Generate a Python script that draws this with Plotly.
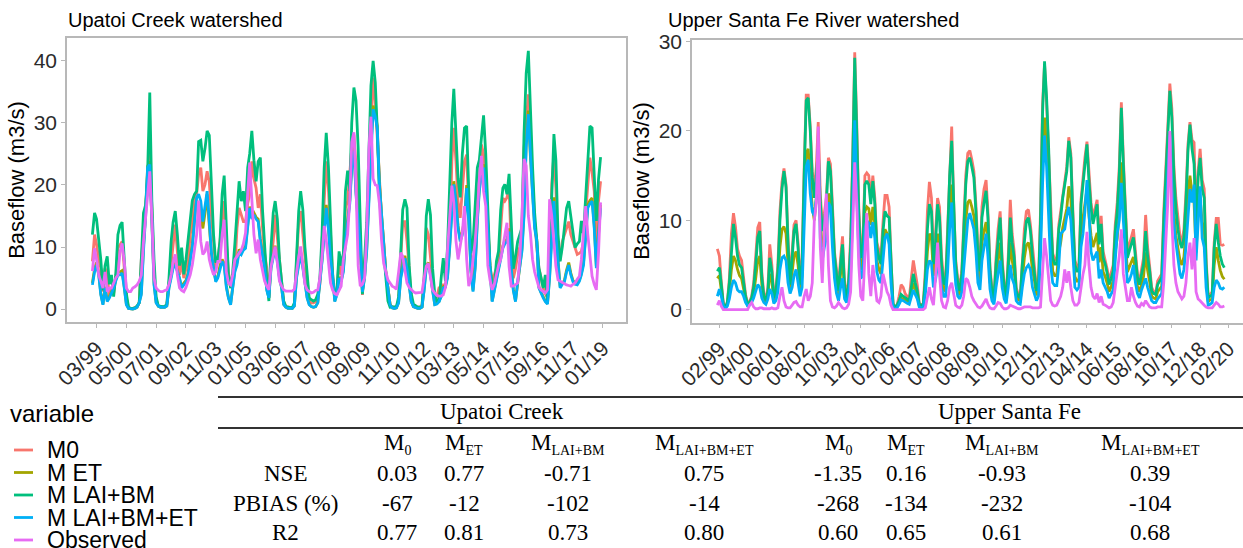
import pandas as pd
import plotly.graph_objects as go

W, H = 1243, 548

series_names = ["M0", "M ET", "M LAI+BM", "M LAI+BM+ET", "Observed"]
series_colors = ["#F8766D", "#A3A500", "#00BF7D", "#00B0F6", "#E76BF3"]

# ---- Upatoi Creek: monthly baseflow (m3/s), Jan 1999 - Dec 2018, one row per year
upatoi_m0 = [
    7.7, 12, 10.4, 8, 6.6, 2.8, 6.6, 5.5, 2, 3.4, 2.5, 5,
    9.8, 10.5, 10.9, 6.6, 1.8, 0.3, 0.1, 0.1, 0.2, 0.4, 1, 8,
    12, 16.3, 20, 25.5, 16.3, 5.5, 1.5, 0.5, 0.4, 0.4, 0.4, 0.7,
    4, 7.7, 11, 13.6, 9.3, 5.5, 7.7, 5, 6.5, 7.7, 12, 14.1,
    17.4, 18.5, 21.7, 22.8, 19, 20.1, 22.2, 20.5, 15, 10.9, 6.6, 7.7,
    10.9, 14.1, 17.4, 10.9, 6, 3.4, 5.5, 6.6, 13.1, 16.3, 15, 14.1,
    14.1, 17, 18.5, 23.8, 21, 19.5, 16.3, 18.5, 13.1, 9, 6.6, 1.8,
    8, 10.9, 15.2, 12, 8, 4.4, 1.2, 0.4, 0.3, 0.2, 0.2, 0.8,
    7, 14.1, 15.8, 12, 8, 4.4, 1.2, 1, 1, 1.2, 2, 4,
    10.9, 18.5, 23.8, 19.5, 11, 5, 1.8, 3.4, 7.7, 5.5, 7.5, 16.3,
    17.4, 21.7, 26, 28.1, 23.8, 18, 10.9, 2.3, 7, 10.9, 20, 28.1,
    37.3, 33.5, 27, 21.1, 15, 10.9, 6, 3.4, 0.7, 0.3, 0.3, 0.3,
    1.5, 8, 14.1, 14.1, 11, 6.6, 1.2, 0.5, 0.3, 0.3, 0.3, 0.4,
    5, 13.1, 12, 8, 4.4, 1.2, 2, 3.4, 3.4, 4, 3.4, 7,
    9.8, 23.8, 29.2, 23.8, 17.4, 14.7, 20, 23.8, 24.9, 15.2, 7, 4.4,
    7.7, 17.4, 20.6, 26.5, 24.9, 18, 14.1, 7, 4.4, 5.5, 6.5, 7.7,
    13, 17.9, 17.4, 18, 19.5, 9.8, 5, 6.5, 8.8, 10, 12, 26,
    30, 34.6, 28.1, 21.1, 14.1, 10, 6.6, 5, 3.4, 2.5, 1.8, 8,
    20.1, 24.9, 19.5, 7.7, 8, 10.9, 12, 13, 14.1, 12, 10.9, 9.5,
    8.8, 9, 9.3, 10.9, 15, 20.1, 24.4, 22, 19, 9.8, 17.4, 20.6,
]
upatoi_met = [
    4.2, 6.5, 7.5, 5.8, 2.5, 0.8, 3.6, 1.4, 2, 2.7, 3.5, 4.8,
    6, 6, 6.2, 3.6, 0.8, 0.1, 0, 0, 0.1, 0.3, 1.1, 2.6,
    10, 15.5, 23, 23.8, 14.5, 4.2, 1.1, 0.5, 0.3, 0.3, 0.3, 0.5,
    3.6, 5.4, 7, 7.5, 6.3, 5.2, 3.6, 4.2, 4.6, 5.8, 8, 10.5,
    14.5, 17.5, 17, 15, 13, 15.5, 18.5, 13.5, 8.8, 6.5, 4.6, 5.2,
    7, 8, 7.4, 3.8, 1.9, 0.8, 3.6, 6.3, 7.5, 9.6, 9.2, 9.8,
    10.2, 13.5, 16.5, 15, 15.5, 14.8, 14.5, 11.3, 8.8, 6.8, 3.2, 1.9,
    7, 8.8, 10.2, 8, 5.2, 3.5, 0.8, 0.3, 0.1, 0.1, 0.1, 0.5,
    5.3, 7.5, 9.2, 7, 4.2, 1.9, 0.8, 0.4, 0.3, 0.4, 1.1, 4.2,
    8, 12.5, 16.8, 13.5, 8.3, 5.7, 1.3, 2.5, 5.2, 4.6, 6.3, 11.3,
    14.5, 17.5, 23.2, 26, 19, 14.4, 10.1, 2.9, 5.2, 9.6, 18.5, 26,
    32.8, 31.5, 29.5, 20.5, 15.4, 11.2, 6.2, 3.5, 0.8, 0.2, 0.1, 0.2,
    1.1, 5.3, 7, 8.6, 6.8, 4.2, 1.3, 0.4, 0.2, 0.1, 0.1, 0.3,
    3.2, 7, 7.5, 5.8, 3.2, 0.8, 0.9, 1.3, 2.1, 3.6, 3.8, 5.3,
    10.5, 16.6, 20.6, 17.8, 13.4, 11.2, 12.4, 14.5, 20, 14.5, 6.3, 3,
    7, 14.6, 19.5, 22.2, 23.3, 19.5, 12.4, 6.9, 1.3, 3.2, 4.6, 6.9,
    8.4, 10.2, 10.9, 11.3, 13, 6.9, 3.2, 1.3, 4.6, 6.8, 9.7, 15.6,
    26.8, 32, 24.6, 19, 13.4, 11.2, 3.6, 2.7, 1.9, 1.3, 0.9, 5.3,
    12.5, 18, 12.4, 7.3, 3.6, 4.2, 4.6, 6.3, 7.5, 5.8, 4.6, 4.2,
    4.1, 4.7, 5.8, 7.5, 11.5, 16.8, 17.5, 17.9, 13.6, 6.9, 12.5, 16.8,
]
upatoi_mlaibm = [
    12, 15.5, 14.5, 11, 8, 3, 7, 8.5, 4, 5.5, 2, 5.5,
    12, 13.5, 14, 8, 2.5, 0.3, 0.1, 0.1, 0.2, 0.5, 1, 8,
    15.5, 16.8, 22, 34.9, 17.4, 8, 2, 0.5, 0.4, 0.4, 0.4, 0.8,
    5, 10.9, 14, 15.8, 12, 7, 9.9, 5.6, 8, 10.9, 14, 17.5,
    18.5, 19, 27, 27.2, 23.8, 25.9, 28.7, 28, 20, 12, 7.5, 8,
    10.9, 18.5, 21.5, 12, 5.5, 3.4, 6, 10.5, 15, 20.6, 17.4, 19,
    15.8, 22.8, 25, 28.7, 24, 20.6, 23.8, 24.4, 16, 9.9, 4.5, 1.3,
    10, 15.5, 17.4, 14.5, 8, 4.5, 1.3, 0.4, 0.3, 0.2, 0.2, 1,
    9, 15.8, 19, 16, 10, 6, 1.8, 1.5, 1.3, 1.5, 2.4, 5,
    12, 22.8, 28.4, 23, 14, 5, 2.4, 2.9, 9.3, 7, 9, 19,
    22.3, 19, 30, 35.7, 33.6, 26, 14, 2.4, 8, 14, 25, 36,
    40, 36.5, 29, 18.5, 13.1, 9, 4, 1.3, 0.3, 0.3, 0.3, 0.4,
    2, 10, 16, 17.7, 16.3, 7, 2.5, 0.8, 0.5, 0.3, 0.3, 0.4,
    5, 15, 17.7, 15.2, 6.6, 2.5, 1.3, 1.3, 5, 8.2, 4.5, 10,
    20, 30, 35.5, 29.2, 21, 18, 25, 29.2, 29.5, 19, 9, 10.5,
    16, 22.8, 24, 28.2, 31.2, 25, 15, 7, 4, 3.4, 7.7, 9.3,
    16, 19.5, 20.1, 18.5, 21.8, 13, 6.5, 8.5, 10.9, 12, 13.1, 28.2,
    38, 41.6, 31, 23, 15.5, 10, 6.6, 5, 3.4, 5.5, 1.3, 8,
    20, 28.2, 24, 12, 7.7, 10, 13.1, 16.3, 17.4, 15, 12, 9.9,
    10.5, 10.9, 14.2, 12, 18, 25, 29.5, 29.2, 21.8, 14.2, 20.9, 24.5,
]
upatoi_mlaibmet = [
    3.9, 6, 7.1, 5.5, 2.3, 0.7, 3.4, 1.2, 1.8, 2.5, 3.4, 4.5,
    5.5, 5.5, 5.8, 3.4, 0.7, 0.1, 0, 0, 0.1, 0.3, 1, 2.3,
    9.3, 15, 22.8, 23.3, 14.1, 3.9, 1, 0.5, 0.3, 0.3, 0.3, 0.5,
    3.4, 5, 6.6, 7.1, 6, 5, 3.4, 4, 4.4, 5.5, 7.7, 10,
    14.1, 17.9, 18.5, 17.4, 14.1, 16.3, 19, 14.1, 9, 6.6, 4.4, 5,
    6.6, 7.7, 7, 3.5, 1.8, 0.7, 3.4, 6, 7.1, 9.3, 8.8, 9.5,
    9.8, 13.1, 16.3, 14.5, 15.2, 14.5, 14.1, 10.9, 8.5, 6.6, 3, 1.8,
    6.6, 8.5, 9.8, 7.7, 5, 3.4, 0.7, 0.3, 0.1, 0.1, 0.1, 0.5,
    5, 7.1, 8.8, 6.6, 4, 1.8, 0.7, 0.4, 0.3, 0.4, 1, 4,
    7.7, 12, 16.3, 13.1, 8, 5.5, 1.2, 2.3, 5, 4.4, 6, 10.9,
    14, 17, 22.8, 25.5, 18.5, 14, 9.8, 2.8, 5, 9.3, 18, 25.5,
    32.2, 31, 29.2, 20, 15, 10.9, 6, 3.4, 0.7, 0.2, 0.1, 0.2,
    1, 5, 6.6, 8.2, 6.5, 4, 1.2, 0.4, 0.2, 0.1, 0.1, 0.3,
    3, 6.6, 7.1, 5.5, 3, 0.7, 0.8, 1.2, 2, 3.4, 3.6, 5,
    10, 16, 20.1, 17.4, 13, 10.9, 12, 14.1, 19.5, 14.1, 6, 2.8,
    6.6, 14.1, 19, 21.7, 22.8, 19, 12, 6.6, 1.2, 3, 4.4, 6.6,
    8, 9.8, 10.5, 10.9, 12.5, 6.6, 3, 1.2, 4.4, 6.5, 9.3, 15,
    26, 31.4, 24, 18.5, 13, 10.9, 3.4, 2.5, 1.8, 1.2, 0.8, 5,
    12, 17.4, 12, 7, 3.4, 4, 4.4, 6, 7.1, 5.5, 4.4, 4,
    3.9, 4.5, 5.5, 7.1, 11, 16.3, 17, 17.4, 13.1, 6.6, 12, 16.3,
]
upatoi_obs = [
    6.1, 9.8, 8, 5.5, 4.5, 3.4, 6, 2.8, 3.4, 3.4, 4.2, 5,
    5.5, 9.3, 10.6, 7.7, 3.4, 2.8, 2.8, 3.4, 3.6, 3.9, 4.5, 5.5,
    10.9, 15, 19.5, 22.2, 14.7, 5, 3.4, 3, 2.8, 2.8, 3, 3.1,
    4, 5.5, 7.5, 8.8, 5.5, 3.4, 3, 2.8, 3.5, 4.4, 5.5, 7.1,
    10, 12, 17.5, 10.9, 8.8, 9.3, 10.9, 8, 6.6, 5.5, 6, 7.7,
    7.7, 12, 14.4, 6, 4.2, 3.9, 5.5, 8, 8.5, 9, 9.5, 10.5,
    12.3, 18.8, 23.6, 17.7, 12, 9, 11.2, 8, 6.4, 4.5, 3.7, 3.1,
    6.9, 8.5, 10.1, 7.4, 4.5, 3.7, 3.1, 2.9, 2.9, 2.9, 2.9, 3.2,
    6, 8.5, 10.1, 6.9, 4, 3.1, 2.8, 2.6, 2.7, 3, 3.1, 5,
    8.5, 13.4, 11.2, 7, 4.2, 3, 2.5, 2.3, 3, 3.7, 8, 10,
    12, 17.7, 26.9, 28.5, 19.9, 7, 3.7, 4, 5, 12.3, 25.8, 31,
    21, 20, 19.9, 17, 11.2, 7.4, 6, 4.7, 4.2, 3.7, 3.5, 3.2,
    6, 9.1, 8.5, 6, 4.2, 3.5, 3.1, 2.8, 2.6, 2.6, 2.6, 2.7,
    5, 6.9, 7.4, 5, 3.1, 2.6, 2.2, 2.1, 2.1, 2.3, 3.5, 9.6,
    15, 19.9, 17.2, 11, 8, 10, 12.3, 16.6, 8, 3.7, 5, 8,
    11, 15.5, 21, 24.7, 19, 16.6, 7, 4.7, 3.1, 4, 5.8, 7,
    8, 10, 12.3, 13.9, 6.9, 3.7, 3.7, 3.9, 4.2, 8, 15, 24.2,
    23.1, 15, 12.3, 8, 6, 4.7, 3.5, 3.1, 2.8, 2.6, 3.1, 17.7,
    15, 10, 6.9, 4.7, 4.5, 4.2, 4, 3.9, 3.8, 3.7, 4, 4.2,
    4.8, 5.3, 8, 12, 16.6, 12, 9.1, 5.3, 4, 3.1, 9, 17.2,
]

# ---- Upper Santa Fe River: monthly baseflow (m3/s), Jan 1999 - Dec 2019
santafe_m0 = [
    6.8, 6, 3.2, 0.7, 0.2, 0.9, 3.5, 8.5, 10.8, 9.3, 6.8, 6,
    5.5, 3.5, 1.7, 0.7, 0.9, 1.5, 3, 6, 9.2, 9.8, 4.2, 1.8,
    1.2, 2.5, 7.3, 5, 1.5, 2.3, 5, 11, 14.3, 15.8, 14, 8,
    3.2, 6.5, 9.5, 10, 7.5, 3.2, 5.8, 15.8, 24, 24, 20.5, 15.5,
    13.5, 16, 21, 13, 9.5, 10.8, 12.5, 17, 16.3, 11.8, 6.5, 4.5,
    2.5, 5.8, 8.2, 3, 1.5, 3.5, 8, 17, 28.8, 21, 11.5, 6.5,
    7.3, 15, 15.3, 15, 12.5, 15, 12.5, 7.5, 6.5, 5.8, 9.8, 12.8,
    12.8, 11.5, 5.8, 0.7, 0.3, 0.5, 1.5, 2.8, 2.5, 1.8, 1.5, 1.2,
    3.5, 5.5, 4.2, 2.8, 0.7, 0.5, 0.7, 4.5, 11, 14.3, 12.5, 6,
    8.5, 12.5, 11.5, 6, 3.5, 3.2, 9, 16, 20.5, 12, 5.5, 3.5,
    2.5, 4.5, 10, 15, 17.5, 17.8, 16.8, 15.5, 11.8, 6.8, 5, 11.5,
    13.5, 14.5, 11, 4.8, 2.3, 1.5, 5.8, 9, 11, 5.8, 2.8, 1.5,
    6, 12.3, 8.5, 6.5, 2.5, 1.7, 1.5, 5.8, 9, 11, 11.2, 9.5,
    6.8, 5, 2.5, 3.2, 11, 23, 27.5, 23, 17.5, 10.5, 6.3, 5.6,
    5.6, 9.5, 11, 13, 14.5, 16, 19.3, 17.5, 11, 5.5, 4.8, 4.8,
    12.3, 15, 17, 18.8, 15, 12, 10.3, 11.5, 12.3, 8, 10.5, 6.5,
    5.6, 4.5, 3.2, 4, 5, 9.5, 12, 16, 23.2, 17, 11, 6.5,
    7.3, 8.3, 9, 6.5, 4, 3.2, 4.5, 5.8, 10.6, 7, 4.8, 2.5,
    2, 1.9, 3.2, 3.6, 4, 11, 16, 20, 25.3, 22.5, 16, 12.5,
    10, 8.2, 7.5, 9, 13, 18.5, 21, 19, 18.7, 9.5, 15.5, 18,
    14.5, 13.5, 5.8, 1.5, 1.7, 2, 7.5, 10.2, 10.2, 7.3, 7.2, 7.3,
]
santafe_met = [
    3.5, 3.8, 2.2, 0.5, 0.2, 0.6, 2, 4.5, 6, 5.5, 4.5, 3.8,
    3.5, 2.3, 1.2, 0.5, 0.6, 1, 1.8, 3.5, 5.5, 6, 2.8, 1.2,
    0.8, 1.7, 4, 3.2, 1, 1.6, 3.2, 7, 9, 9.3, 8.5, 5,
    2.2, 4.2, 6, 6.5, 5, 2.2, 3.8, 12, 17.5, 18, 15, 11.5,
    10, 12.5, 15, 10, 7, 8, 9.5, 13, 12.5, 9, 5, 3.2,
    1.7, 4, 5.8, 2, 1, 2.3, 5.5, 13, 23, 16.5, 8.5, 4.5,
    5, 11, 11.5, 11.3, 9.5, 11.5, 9.5, 5.5, 4.5, 4, 7, 9,
    8.5, 8.3, 4, 0.5, 0.2, 0.4, 0.8, 1.3, 1.2, 1, 0.9, 0.8,
    1.9, 3, 2.3, 1.6, 0.5, 0.4, 0.5, 2.7, 6.5, 8.5, 8, 3.8,
    5.3, 8.5, 7.5, 3.8, 2.2, 2.1, 5.8, 11, 14, 8, 3.7, 2.2,
    1.6, 3, 6.5, 10, 12, 12.3, 11.5, 10.5, 8, 4.4, 3.2, 7.5,
    8.8, 9.8, 7.5, 3.2, 1.5, 1, 3.8, 5.8, 7.5, 3.8, 1.9, 1,
    3.8, 7.5, 5.5, 4.2, 1.6, 1.1, 1, 3.8, 5.8, 7.2, 7.5, 6.5,
    4.4, 3.2, 1.6, 2.1, 8, 17, 21.5, 18, 13.5, 7.5, 4.3, 3.8,
    3.8, 6.5, 7.5, 9.2, 10.3, 11.3, 13.8, 12.5, 7.5, 3.7, 3.2, 3.2,
    8.6, 10.5, 12, 13.5, 10.5, 8.3, 7, 7.9, 8.6, 5.3, 7, 4.2,
    3.7, 2.9, 2, 2.6, 3.2, 6.4, 8, 11, 16.5, 11.9, 7.5, 4.2,
    4.8, 5.5, 5.9, 4.2, 2.6, 2, 2.9, 3.7, 6.4, 4.4, 3.1, 1.5,
    1.3, 1.2, 2, 2.3, 2.6, 7.3, 11, 14, 18, 15.7, 11, 8.3,
    6.6, 5.5, 5, 5.9, 8.8, 13, 15, 13.1, 11.9, 6.4, 10.8, 12.4,
    9.8, 9.1, 3.7, 0.9, 1.1, 1.2, 5, 7, 5.5, 4.4, 3.7, 3.4,
]
santafe_mlaibm = [
    4.3, 4.7, 2.8, 0.6, 0.2, 0.8, 3, 7, 9.6, 8.1, 6, 5,
    4.7, 3, 1.5, 0.6, 0.8, 1.3, 2.5, 5, 8.1, 8.8, 3.6, 1.5,
    1, 2.1, 5.8, 4.3, 1.3, 2, 4.3, 10, 13.5, 15.5, 13.7, 7.3,
    2.8, 5.8, 8.8, 9.6, 6.9, 2.8, 5, 15, 23.4, 23.7, 20, 14.8,
    12.5, 15, 18, 12, 8.8, 10, 11.8, 16.6, 15.5, 11, 6, 4,
    2.1, 5.1, 7.3, 2.5, 1.3, 3, 7, 16.3, 28.2, 20, 10.7, 5.8,
    6.6, 14, 14.4, 14, 11.8, 14.4, 11.8, 7, 5.8, 5.1, 8.8, 11,
    10.5, 10.3, 5.1, 0.6, 0.3, 0.5, 1, 1.7, 1.5, 1.3, 1.1, 1,
    2.5, 4, 3, 2.1, 0.6, 0.5, 0.6, 3.5, 9, 11.8, 11, 5.1,
    7.3, 11.8, 10.3, 5.1, 3, 2.8, 8, 15, 18.9, 11, 5, 3,
    2.1, 4, 9, 14, 16.6, 17, 16, 14.8, 11, 6, 4.3, 10.3,
    12, 13.3, 10.3, 4.3, 2, 1.3, 5.1, 8, 10.3, 5.1, 2.5, 1.3,
    5.1, 10.3, 7.5, 5.8, 2.1, 1.5, 1.3, 5.1, 8, 9.9, 10.3, 8.8,
    6, 4.3, 2.1, 2.8, 10, 22, 27.8, 23.7, 18.1, 10.3, 5.8, 5.1,
    5.1, 9, 10.3, 12.5, 14, 15.5, 18.9, 17, 10.3, 5, 4.3, 4.3,
    11.8, 14.4, 16.5, 18.5, 14.4, 11.4, 9.6, 10.8, 11.8, 7.3, 9.6, 5.8,
    5.1, 4, 2.8, 3.5, 4.3, 8.8, 11, 15.1, 22.6, 16.3, 10.3, 5.8,
    6.6, 7.5, 8.1, 5.8, 3.6, 2.8, 4, 5.1, 8.8, 6, 4.3, 2.1,
    1.8, 1.7, 2.8, 3.2, 3.6, 10, 15, 19.3, 24.5, 21.5, 15.1, 11.4,
    9, 7.5, 6.9, 8.1, 12, 17.8, 20.7, 18, 16.3, 8.8, 14.8, 17,
    13.5, 12.5, 5.1, 1.3, 1.5, 1.7, 6.9, 9.6, 7.5, 6, 5.1, 4.7,
]
santafe_mlaibmet = [
    1.5, 2.3, 1.5, 0.4, 0.1, 0.4, 1.2, 2.5, 3.3, 3, 2.2, 2,
    2, 1.5, 0.8, 0.4, 0.5, 0.8, 1.3, 2.2, 2.8, 2.5, 1.3, 0.8,
    0.6, 1.2, 2.3, 1.8, 0.7, 1, 2, 4.5, 5.8, 6, 5.5, 3,
    1.8, 2.5, 3.8, 4.5, 3.2, 1.5, 2.5, 9, 16, 16.8, 13, 11,
    10.5, 12.5, 18, 8, 5.5, 7, 8, 12, 11.5, 7, 3.5, 1.8,
    1, 2.5, 3.5, 1.2, 0.8, 1.8, 4, 11, 21.2, 13, 6.5, 3.5,
    3.8, 9, 10, 9.7, 8, 9.8, 8, 4.2, 3.3, 3, 6, 8,
    8.5, 7.3, 3, 0.3, 0.1, 0.2, 0.6, 1.1, 1, 0.8, 0.7, 0.6,
    1.5, 2.2, 1.7, 1.2, 0.3, 0.2, 0.3, 1.7, 4.5, 5.5, 5.2, 2.5,
    3.3, 5, 4.5, 2.5, 1.5, 1.5, 4.2, 9, 12, 6, 2.8, 1.5,
    1.2, 2, 4.5, 7.5, 10, 10.8, 10, 9, 6.5, 3, 2.2, 5.5,
    7, 8.5, 6, 2.3, 1, 0.6, 2.5, 3.8, 5.5, 2.5, 1.2, 0.7,
    2.5, 5, 3.5, 2.8, 1, 0.7, 0.6, 2.5, 4, 4.7, 5, 4.5,
    2.5, 1.7, 1, 1.5, 6, 14, 19.5, 16, 11, 5, 3, 2.7,
    2.7, 5, 8.5, 8.7, 9, 10.5, 11.5, 10, 6, 2.5, 2.2, 2.5,
    7, 8.5, 11, 14.5, 11, 6.5, 5.5, 6, 6.5, 3.5, 4.5, 3,
    2.5, 2, 1.3, 1.8, 2.2, 5.5, 8.5, 10, 14.2, 10, 6, 3,
    3.3, 4, 5, 3, 1.8, 1.3, 2.2, 3, 3.5, 2.5, 1.6, 1,
    0.8, 0.8, 1.2, 1.5, 1.8, 6, 10, 14, 19.5, 14, 9.5, 7.5,
    5.5, 4, 3.5, 4.5, 7, 11, 13.5, 12, 14, 5.5, 10, 13.8,
    8, 7, 2.5, 0.5, 0.6, 0.8, 2.5, 3.3, 3, 2.4, 2.3, 2.5,
]
santafe_obs = [
    0.5, 1, 0.4, 0, 0, 0, 0, 0, 0, 0, 0, 0,
    0, 0, 0, 0, 0.5, 0.8, 0.3, 0.1, 0.1, 0.2, 0.2, 0.1,
    0.1, 0.1, 0.1, 0.2, 0.1, 0.1, 0.2, 1.5, 2.5, 1, 0.3, 0.2,
    0.2, 0.5, 0.8, 0.9, 0.5, 0.3, 0.3, 1.5, 2.3, 1, 1.5, 3,
    10, 12, 20.5, 7, 3, 9, 13, 5, 1, 0.3, 0.2, 0.4,
    0.8, 0.5, 0.2, 0.1, 0.2, 0.6, 2, 9, 16.5, 12, 5, 1.5,
    1, 6, 10.8, 4, 1.5, 5, 3, 1, 0.8, 1.5, 4, 3,
    2, 1.5, 0.5, 0, 0, 0, 0, 0, 0, 0, 0, 0,
    0, 0, 0, 0, 0, 0, 0, 0.2, 1.5, 2.5, 1.2, 0.5,
    3.5, 7.5, 4, 1, 0.3, 0.2, 1, 2.5, 3, 1.5, 0.5, 0.3,
    0.2, 0.5, 1.5, 3.5, 3.3, 2.5, 1.5, 1, 0.6, 0.3, 0.2, 0.4,
    0.8, 1.2, 0.6, 0.2, 0.1, 0.1, 0.4, 0.8, 0.7, 0.3, 0.1, 0.1,
    0.2, 0.5, 0.4, 0.3, 0.2, 0.1, 0.1, 0.2, 0.3, 0.3, 0.3, 0.3,
    0.2, 0.2, 0.2, 0.2, 0.3, 4, 8, 6, 3, 1, 0.5, 0.4,
    0.5, 1, 1.5, 2.5, 4.5, 3, 4.3, 2.5, 1, 0.5, 0.5, 0.8,
    2.5, 4, 5, 8.7, 5, 2.5, 1.5, 1.2, 1.8, 0.8, 1.5, 0.6,
    0.5, 0.3, 0.2, 0.3, 0.8, 2.5, 4, 6, 9, 4, 2.5, 1,
    1, 2.5, 1.5, 0.8, 0.4, 0.3, 0.7, 0.5, 1, 0.6, 0.3, 0.2,
    0.2, 0.2, 0.3, 0.3, 0.3, 3, 8, 12, 20, 10, 5, 3,
    2, 1.5, 1.2, 1.5, 3, 6, 7.5, 4.5, 8, 2, 1.2, 1,
    0.8, 0.5, 0.3, 0.2, 0.2, 0.2, 0.5, 0.8, 0.6, 0.3, 0.3, 0.4,
]

upatoi_ticks = ["03/99", "05/00", "07/01", "09/02", "11/03", "01/05", "03/06",
                "05/07", "07/08", "09/09", "11/10", "01/12", "03/13", "05/14",
                "07/15", "09/16", "11/17", "01/19"]
santafe_ticks = ["02/99", "04/00", "06/01", "08/02", "10/03", "12/04", "02/06",
                 "04/07", "06/08", "08/09", "10/10", "12/11", "02/13", "04/14",
                 "06/15", "08/16", "10/17", "12/18", "02/20"]

stat_rows = ["NSE", "PBIAS (%)", "R2"]
model_subscripts = ["0", "ET", "LAI+BM", "LAI+BM+ET"]
upatoi_stats = [["0.03", "0.77", "-0.71", "0.75"],
                ["-67", "-12", "-102", "-14"],
                ["0.77", "0.81", "0.73", "0.80"]]
santafe_stats = [["-1.35", "0.16", "-0.93", "0.39"],
                 ["-268", "-134", "-232", "-104"],
                 ["0.60", "0.65", "0.61", "0.68"]]


def tick_date(label):
    mm, yy = label.split("/")
    yy = int(yy)
    year = 1900 + yy if yy > 50 else 2000 + yy
    return pd.Timestamp(year=year, month=int(mm), day=1)


def monthly(values):
    return pd.date_range("1999-01-01", periods=len(values), freq="MS")


def expanded(lo, hi, frac=0.05):
    pad = (hi - lo) * frac
    return lo - pad, hi + pad


SANS = "Liberation Sans, Arial, sans-serif"
SERIF = "Liberation Serif, Times New Roman, serif"

fig = go.Figure()

panels = [
    ("x", "y", [upatoi_m0, upatoi_met, upatoi_mlaibm, upatoi_mlaibmet, upatoi_obs]),
    ("x2", "y2", [santafe_m0, santafe_met, santafe_mlaibm, santafe_mlaibmet, santafe_obs]),
]
for xa, ya, group in panels:
    for name, color, vals in zip(series_names, series_colors, group):
        fig.add_trace(go.Scatter(
            x=monthly(vals), y=vals, mode="lines", name=name,
            line=dict(color=color, width=2.8), xaxis=xa, yaxis=ya,
            showlegend=False, hoverinfo="skip",
        ))

# axis ranges with ggplot-style 5% expansion
u_dates = monthly(upatoi_m0)
u_x0, u_x1 = expanded(u_dates[0], u_dates[-1])
u_all = upatoi_m0 + upatoi_met + upatoi_mlaibm + upatoi_mlaibmet + upatoi_obs
u_y0, u_y1 = expanded(min(u_all), max(u_all))

s_dates = monthly(santafe_m0)
s_x0, s_x1 = expanded(s_dates[0], s_dates[-1])
s_x1 = s_x0 + (s_x1 - s_x0) * 0.988  # right edge of this panel is cut by the figure border
s_all = santafe_m0 + santafe_met + santafe_mlaibm + santafe_mlaibmet + santafe_obs
s_y0, s_y1 = expanded(min(s_all), max(s_all))

BORDER = "#B8B8B8"
TICKFONT = dict(family=SANS, size=21, color="#2b2b2b")
axis_common = dict(showgrid=False, zeroline=False, showline=True, linecolor=BORDER,
                   linewidth=1.5, ticks="outside", ticklen=4, tickcolor=BORDER,
                   tickwidth=1.2, tickfont=TICKFONT, automargin=False)


def fx(px):
    return px / W


def fy(py):
    return 1 - py / H


AXIS_TITLE = dict(text="Baseflow (m3/s)", font=dict(family=SANS, size=22, color="black"),
                  standoff=3)

fig.update_layout(
    template="none",
    width=W, height=H, margin=dict(l=0, r=0, t=0, b=0, pad=0, autoexpand=False),
    paper_bgcolor="white", plot_bgcolor="white", showlegend=False,
    font=dict(family=SANS, color="black"),
    xaxis=dict(domain=[fx(67), fx(626)], range=[u_x0, u_x1], anchor="y",
               tickvals=[tick_date(t) for t in upatoi_ticks], ticktext=upatoi_ticks,
               tickangle=-45, mirror=True, **axis_common),
    yaxis=dict(domain=[fy(322), fy(38)], range=[u_y0, u_y1], anchor="x",
               tickvals=[0, 10, 20, 30, 40], mirror=True, title=AXIS_TITLE,
               **axis_common),
    xaxis2=dict(domain=[fx(692), 1.0], range=[s_x0, s_x1], anchor="y2",
                tickvals=[tick_date(t) for t in santafe_ticks], ticktext=santafe_ticks,
                tickangle=-45, mirror=True, **axis_common),
    yaxis2=dict(domain=[fy(322.5), fy(39.5)], range=[s_y0, s_y1], anchor="x2",
                tickvals=[0, 10, 20, 30], mirror=False, title=AXIS_TITLE,
                **axis_common),
)


def text(px, py, s, size=19, family=SANS, xanchor="center", color="black"):
    fig.add_annotation(x=fx(px), y=fy(py), xref="paper", yref="paper", text=s,
                       showarrow=False, xanchor=xanchor, yanchor="middle",
                       borderpad=0, font=dict(family=family, size=size, color=color))


def hline(x0, x1, py, width=1.5):
    fig.add_shape(type="line", xref="paper", yref="paper", x0=fx(x0), x1=fx(x1),
                  y0=fy(py), y1=fy(py), line=dict(color="#333333", width=width))


# panel titles
text(67, 20, "Upatoi Creek watershed", size=20, xanchor="left")
text(667, 20, "Upper Santa Fe River watershed", size=20, xanchor="left")

# legend
text(9, 413, "variable", size=24, xanchor="left")
legend_y = [450, 472.5, 495, 517.5, 540]
for name, color, ly in zip(series_names, series_colors, legend_y):
    fig.add_shape(type="line", xref="paper", yref="paper", x0=fx(14), x1=fx(33),
                  y0=fy(ly), y1=fy(ly), line=dict(color=color, width=2.8))
    text(46, ly, name, size=23, xanchor="left")

# statistics table
hline(218, 1243, 397, 2)
hline(218, 1243, 428, 2)
text(502, 411, "Upatoi Creek", size=23, family=SERIF)
text(1009, 411, "Upper Santa Fe", size=23, family=SERIF)
col_x = [397, 464, 568, 704, 838, 906, 1002, 1150]
for cx, sub in zip(col_x, model_subscripts * 2):
    head = "M<sub><span style='font-size:14px'>%s</span></sub>" % sub
    text(cx, 444, head, size=23, family=SERIF)
row_y = [473, 503, 532]
for ry, label, u_vals, s_vals in zip(row_y, stat_rows, upatoi_stats, santafe_stats):
    text(285, ry, label, size=23, family=SERIF)
    for cx, v in zip(col_x, u_vals + s_vals):
        text(cx, ry, v, size=23, family=SERIF)

fig.write_html("out.html")
